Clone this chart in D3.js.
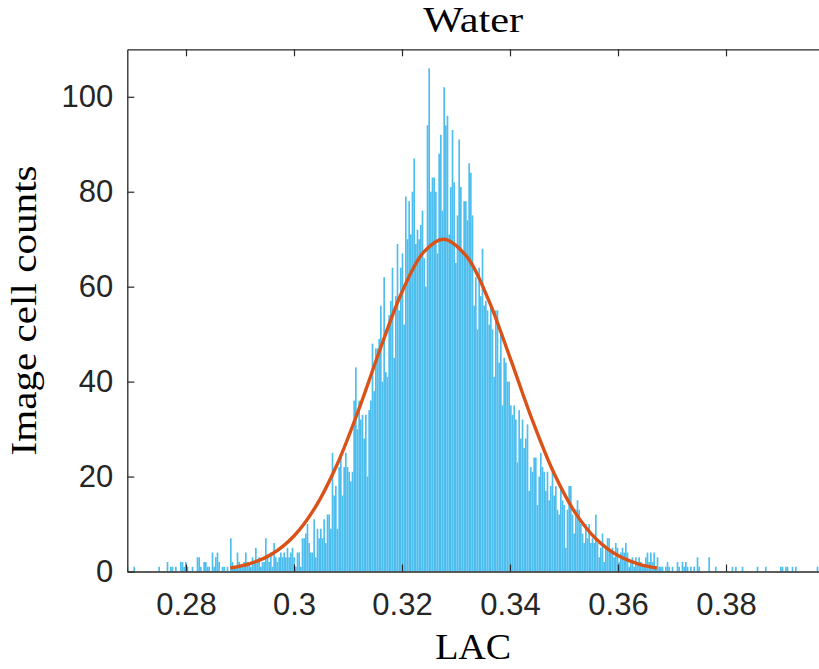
<!DOCTYPE html>
<html><head><meta charset="utf-8">
<script src="https://cdn.jsdelivr.net/npm/d3@7/dist/d3.min.js"></script>
<style>body{margin:0;background:#fff}svg{display:block}</style>
</head><body><svg id="c" width="819" height="669"></svg>
<script>
// ---- data ----
const binStart = 0.269012;
const binWidth = 0.000308642;
const countsLeft = [
 1,0,0,0,1,0,0,0,0,0,
 0,0,0,0,0,0,0,0,0,1,
 0,0,0,0,2,0,1,1,0,1,
 0,0,2,2,1,2,1,0,0,1,
 0,0,3,3,1,0,2,2,1,1,
 0,4,1,3,4,2,0,1,1,0,
 1,0,7,2,1,1,4,2,1,1,
 2,4,2,2,1,3,2,5,2,3,
 1,2,2,7,3,2,4,1,6,3,
 2,3,4,3,4,3,5,3];
const countsCore = [
 4,5,3,1,4,4,1,7,7,8,10,6,4,4,11,3,9,7,9,7,11,6,12,12,9,25,16,18,9,22,24,16,22,25,22,21,19,21,36,43,30,36,
 32,33,28,33,20,34,36,48,38,47,47,49,56,40,62,42,41,54,57,64,45,58,69,55,64,67,52,79,70,78,71,80,87,69,72,70,73,76,66,60,94,106,
 80,83,83,80,67,88,92,76,102,94,96,71,81,93,82,65,75,91,81,67,78,78,74,86,84,75,56,62,51,64,58,68,56,57,55,52,56,51,41,55,55,44,
 50,35,45,44,40,40,35,33,35,32,23,34,28,32,26,28,31,17,22,21,24,24,14,20,25,22,21,17,21,15,18,21,16,18,13,12,18,15,14,5,13,18,
 18,12,8,13,15,13,10,8,6,10,7,10,6,7,6,12,6,3,5,8,2,5,7,7,4,5,3,6,5,2,4,5,4,6,4,1,2,3,1,3,2,3];
const countsRight = [
 2,1,1,3,4,2,4,2,4,1,
 3,1,1,1,0,1,2,1,0,1,
 0,0,2,1,0,2,1,2,1,0,
 1,0,1,0,3,1,0,0,0,0,
 0,3,0,0,0,1,0,0,0,0,
 0,0,0,0,0,1,0,1,0,0,
 0,1,0,0,0,0,0,0,0,0,
 1,0,0,0,0,1,0,0,0,0,
 0,0,0,0,1,1,0,1,1,0,
 0,1,0,1,0,0,0,0,0,0,
 0,0,0,0,0,0,1,0];
const fitX = [0.2882,0.292,0.296,0.300,0.304,0.308,0.312,0.316,0.320,0.324,0.3277,0.332,0.336,0.340,0.344,0.348,0.352,0.356,0.360,0.364,0.3672];
const fitY = [0.74,1.71,3.74,7.48,13.64,22.59,34.14,46.98,58.89,67.26,70,66.33,57.27,45.05,32.28,21.06,12.52,6.79,3.35,1.51,0.74];
const xTicks = [0.28,0.30,0.32,0.34,0.36,0.38];
const xTickLabels = ["0.28","0.3","0.32","0.34","0.36","0.38"];
const yTicks = [0,20,40,60,80,100];
const yTickLabels = ["0","20","40","60","80","100"];
const titleText = "Water";
const xLabelText = "LAC";
const yLabelText = "Image cell counts";

// ---- layout ----
const L = 127.3, R = 819.0, T = 49.3, B = 571.5;
const svg = d3.select("#c");
const xs = d3.scaleLinear().domain([0.26913, 0.39722]).range([L, R]);
const ys = d3.scaleLinear().domain([0, 110]).range([B, T]);
const axisCol = "#262626";

svg.append("defs").append("clipPath").attr("id","clip")
  .append("rect").attr("x",L).attr("y",T).attr("width",R-L).attr("height",B-T);

const counts = countsLeft.concat(countsCore, countsRight);
const bins = counts.map((c,i)=>({x0: binStart + i*binWidth, x1: binStart + (i+1)*binWidth, c}));

svg.append("g").attr("clip-path","url(#clip)")
  .selectAll("rect").data(bins.filter(d=>d.c>0)).join("rect")
  .attr("x", d=>xs(d.x0))
  .attr("width", d=>xs(d.x1)-xs(d.x0))
  .attr("y", d=>ys(d.c))
  .attr("height", d=>ys(0)-ys(d.c))
  .attr("fill","#4DBEEE");

const line = d3.line().x((d,i)=>xs(fitX[i])).y((d,i)=>ys(fitY[i])).curve(d3.curveCatmullRom);
svg.append("path").attr("d", line(fitX)).attr("fill","none")
  .attr("stroke","#D95319").attr("stroke-width",3.4).attr("stroke-linejoin","round");

// axes
const fontSans = "'Liberation Sans', Arial, Helvetica, sans-serif";
const fontSerif = "'Liberation Serif', 'DejaVu Serif', serif";

const xAxis = d3.axisBottom(xs).tickValues(xTicks).tickFormat((d,i)=>xTickLabels[i])
  .tickSizeInner(-7).tickSizeOuter(0).tickPadding(21);
const gx = svg.append("g").attr("transform",`translate(0,${B})`).call(xAxis);
const xTop = d3.axisTop(xs).tickValues(xTicks).tickFormat("").tickSizeInner(-7).tickSizeOuter(0);
const gxt = svg.append("g").attr("transform",`translate(0,${T})`).call(xTop);
const yAxis = d3.axisLeft(ys).tickValues(yTicks).tickFormat((d,i)=>yTickLabels[i])
  .tickSizeInner(-7).tickSizeOuter(0).tickPadding(14);
const gy = svg.append("g").attr("transform",`translate(${L},0)`).call(yAxis);
[gx,gxt,gy].forEach(g=>{
  g.select(".domain").attr("stroke",axisCol).attr("stroke-width",1.3);
  g.selectAll(".tick line").attr("stroke",axisCol).attr("stroke-width",1.2);
  g.selectAll(".tick text").attr("fill",axisCol).style("font-family",fontSans).style("font-size","31px");
});

svg.append("text").attr("x",(L+R)/2).attr("y",32).attr("text-anchor","middle")
  .attr("textLength",100).attr("lengthAdjust","spacingAndGlyphs")
  .style("font-family",fontSerif).style("font-size","36px").attr("fill","#000").text(titleText);
svg.append("text").attr("x",(L+R)/2).attr("y",659).attr("text-anchor","middle")
  .attr("textLength",76).attr("lengthAdjust","spacingAndGlyphs")
  .style("font-family",fontSerif).style("font-size","36px").attr("fill","#000").text(xLabelText);
svg.append("text").attr("transform",`translate(36,${(T+B)/2}) rotate(-90)`).attr("text-anchor","middle")
  .attr("textLength",290).attr("lengthAdjust","spacingAndGlyphs")
  .style("font-family",fontSerif).style("font-size","36px").attr("fill","#000").text(yLabelText);
</script></body></html>
